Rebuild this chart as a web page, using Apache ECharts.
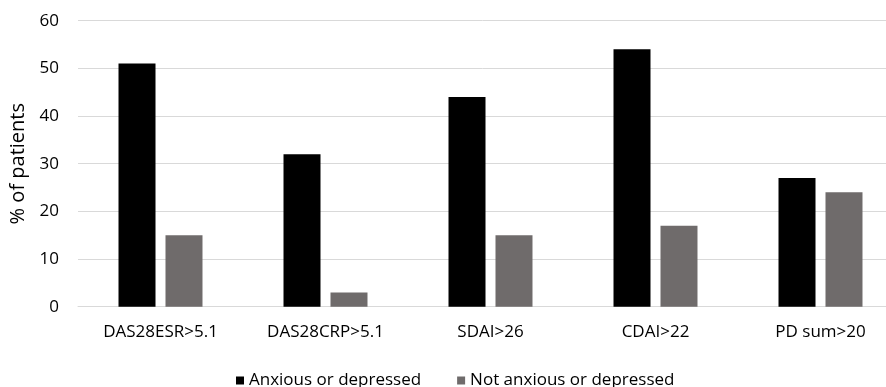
<!DOCTYPE html>
<html>
<head>
<meta charset="utf-8">
<script src="https://cdn.jsdelivr.net/npm/echarts@6/dist/echarts.min.js"></script>
<style>html,body{margin:0;padding:0;background:#fff;}#c{width:886px;height:387px;}</style>
</head>
<body>
<div id="c"></div>
<script>
var categories = ['DAS28ESR>5.1', 'DAS28CRP>5.1', 'SDAI>26', 'CDAI>22', 'PD sum>20'];
var seriesNames = ['Anxious or depressed', 'Not anxious or depressed'];
var anxious = [51, 32, 44, 54, 27];
var notAnxious = [15, 3, 15, 17, 24];
var yTicks = {min: 0, max: 60, interval: 10};

var FONT = '"Open Sans", sans-serif';
var chart = echarts.init(document.getElementById('c'), null, {renderer: 'canvas'});
chart.setOption({
  animation: false,
  backgroundColor: '#ffffff',
  grid: {left: 78, width: 825, top: 20.7, bottom: 80.3, containLabel: false, outerBoundsMode: 'none'},
  legend: {
    data: seriesNames,
    left: 231, top: 367,
    icon: 'rect', itemWidth: 8, itemHeight: 8, itemGap: 36,
    textStyle: {fontFamily: FONT, fontSize: 17, color: '#000'}
  },
  xAxis: {
    type: 'category', data: categories,
    axisLine: {show: true, lineStyle: {color: '#d9d9d9', width: 1}},
    axisTick: {show: false},
    axisLabel: {margin: 17, fontFamily: FONT, fontSize: 17, color: '#000'}
  },
  yAxis: {
    type: 'value', min: yTicks.min, max: yTicks.max, interval: yTicks.interval,
    name: '% of patients', nameLocation: 'middle', nameRotate: 90, nameGap: 49,
    nameTextStyle: {fontFamily: FONT, fontSize: 20, color: '#000'},
    axisLine: {show: false}, axisTick: {show: false},
    axisLabel: {margin: 19, fontFamily: FONT, fontSize: 17, color: '#000'},
    splitLine: {lineStyle: {color: '#d9d9d9', width: 1}}
  },
  series: [
    {name: seriesNames[0], type: 'bar', data: anxious, barWidth: 37, barGap: '27%', itemStyle: {color: '#000000'}},
    {name: seriesNames[1], type: 'bar', data: notAnxious, barWidth: 37, barGap: '27%', itemStyle: {color: '#6f6b6b'}}
  ]
});
</script>
</body>
</html>
